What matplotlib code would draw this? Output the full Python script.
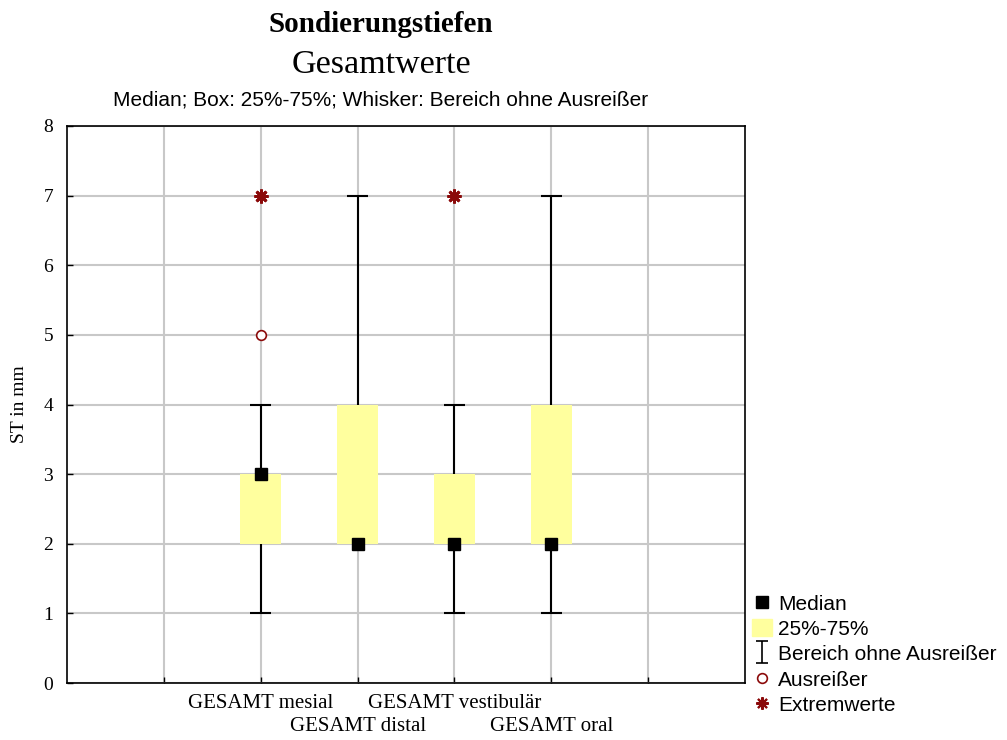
import matplotlib.pyplot as plt
from matplotlib.lines import Line2D
from matplotlib.patches import Patch
from matplotlib.path import Path

categories = ["GESAMT mesial", "GESAMT distal", "GESAMT vestibulär", "GESAMT oral"]
positions = [2, 3, 4, 5]
medians = [3, 2, 2, 2]
q25 = [2, 2, 2, 2]
q75 = [3, 4, 3, 4]
whisker_low = [1, 2, 1, 1]
whisker_high = [4, 7, 4, 7]
outliers = {2: [5]}
extremes = {2: [7], 4: [7]}

serif = ["Liberation Serif", "DejaVu Serif"]
sans = ["Liberation Sans", "DejaVu Sans"]
box_color = "#ffff9e"
red = "#8b0a0a"

W, H = 1007, 740
fig = plt.figure(figsize=(W / 100, H / 100), dpi=100)
ax = fig.add_axes([67 / W, 1 - 683 / H, (745 - 67) / W, (683 - 126) / H])

# boxes
ax.bar(positions, [h - l for h, l in zip(q75, q25)], bottom=q25, width=0.42,
       color=box_color, zorder=2)

# whiskers and caps
for x, lo, q1, q3, hi in zip(positions, whisker_low, q25, q75, whisker_high):
    if hi > q3:
        ax.vlines(x, q3, hi, color="black", lw=1.5, zorder=3)
        ax.hlines(hi, x - 0.11, x + 0.11, color="black", lw=1.5, zorder=3)
    if lo < q1:
        ax.vlines(x, lo, q1, color="black", lw=1.5, zorder=3)
        ax.hlines(lo, x - 0.11, x + 0.11, color="black", lw=1.5, zorder=3)

ax.plot(positions, medians, "s", color="black", ms=8.5, zorder=4)

for x, vals in outliers.items():
    ax.plot([x] * len(vals), vals, "o", mfc="white", mec=red, ms=7, mew=1.2, zorder=4)
for x, vals in extremes.items():
    ax.plot([x] * len(vals), vals, marker=(8, 2, 0), ls="none", color=red,
            ms=10, mew=2, zorder=4)

ax.set_xlim(0, 7)
ax.set_ylim(0, 8)
ax.set_yticks(range(0, 9))
ax.set_xticks(range(1, 7))
ax.set_xticklabels([])
ax.grid(True, color="#c8c8c8", lw=1.5, zorder=0)
ax.set_axisbelow(True)
ax.tick_params(direction="in", length=4, width=1, labelsize=14)
ax.tick_params(axis="y", pad=10)
for lab in ax.get_yticklabels():
    lab.set_fontfamily(serif)
for s in ax.spines.values():
    s.set_linewidth(1.2)

# staggered category labels
for i, (x, name) in enumerate(zip(positions, categories)):
    y = -0.30 if i % 2 == 0 else -0.63
    ax.text(x, y, name, ha="center", va="center", fontsize=15, family=serif)

fig.text(20 / W, 0.5 * ((1 - 683 / H) + (1 - 126 / H)), "ST in mm", rotation=90,
         ha="center", va="center", fontsize=14, family=serif)

fig.text(381 / W, 1 - 32 / H, "Sondierungstiefen", ha="center", va="baseline",
         fontsize=21, fontweight="bold", family=serif)
fig.text(381 / W, 1 - 73 / H, "Gesamtwerte", ha="center", va="baseline",
         fontsize=24.5, family=serif)
fig.text(381 / W, 1 - 106 / H, "Median; Box: 25%-75%; Whisker: Bereich ohne Ausreißer",
         ha="center", va="baseline", fontsize=15, family=sans)

i_shape = Path([(-0.5, 1), (0.5, 1), (0, 1), (0, -1), (-0.5, -1), (0.5, -1)],
               [Path.MOVETO, Path.LINETO, Path.MOVETO, Path.LINETO, Path.MOVETO, Path.LINETO])
handles = [
    Line2D([], [], marker="s", ls="none", color="black", ms=8.5),
    Patch(color=box_color),
    Line2D([], [], marker=i_shape, ls="none", color="black", ms=16, mew=1.2),
    Line2D([], [], marker="o", ls="none", mfc="white", mec=red, ms=7, mew=1.2),
    Line2D([], [], marker=(8, 2, 0), ls="none", color=red, ms=9, mew=1.5),
]
labels = ["Median", "25%-75%", "Bereich ohne Ausreißer", "Ausreißer", "Extremwerte"]
fig.legend(handles, labels, loc="upper left", bbox_to_anchor=(752 / W, 1 - 594 / H),
           frameon=False, prop={"family": sans, "size": 15}, handlelength=0.95,
           handleheight=0.85, handletextpad=0.3, labelspacing=0.28, borderpad=0,
           borderaxespad=0)

fig.savefig("out.png", dpi=100)
